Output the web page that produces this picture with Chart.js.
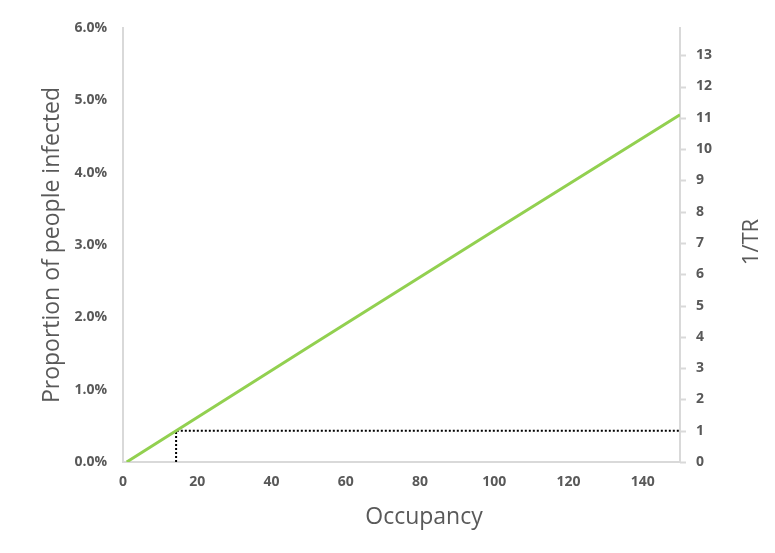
<!DOCTYPE html>
<html>
<head>
<meta charset="utf-8">
<script src="https://cdn.jsdelivr.net/npm/chart.js@4.4.1/dist/chart.umd.min.js"></script>
<style>
  html, body { margin: 0; padding: 0; background: #fff; }
  #wrap { width: 775px; height: 553px; position: relative; }
</style>
</head>
<body>
<div id="wrap"><canvas id="chart"></canvas></div>
<script>
// data
const occupancy = [1, 50, 100, 150];
const proportionInfected = [0, 0.0159, 0.0320, 0.0480];
const markerOccupancy = [14.3, 14.3, 150];
const markerTR = [0, 1, 1];
const xTicks = [0, 20, 40, 60, 80, 100, 120, 140];
const rightTicks = [0, 1, 2, 3, 4, 5, 6, 7, 8, 9, 10, 11, 12, 13];

const textColor = '#595959';
const axisColor = '#d9d9d9';
const tickFont = { family: 'Open Sans', size: 14, weight: 'bold' };

// axis titles drawn at their spots
const axisTitles = {
    id: 'axisTitles',
    afterDraw(chart) {
        const ctx = chart.ctx;
        const a = chart.chartArea;
        ctx.save();
        ctx.fillStyle = textColor;
        ctx.font = '23px "Open Sans"';
        ctx.textAlign = 'center';
        ctx.textBaseline = 'middle';
        ctx.fillText('Occupancy', 424, 517);
        ctx.translate(52, (a.top + a.bottom) / 2);
        ctx.rotate(-Math.PI / 2);
        ctx.fillText('Proportion of people infected', 0, 0);
        ctx.restore();
        ctx.save();
        ctx.fillStyle = textColor;
        ctx.font = '22px "Open Sans"';
        ctx.textAlign = 'center';
        ctx.textBaseline = 'middle';
        ctx.translate(752, 242);
        ctx.rotate(-Math.PI / 2);
        ctx.fillText('1/TR', 0, 0);
        ctx.restore();
        // small outside ticks on the right axis
        const s = chart.scales.y2;
        ctx.save();
        ctx.strokeStyle = axisColor;
        ctx.lineWidth = 2;
        s.ticks.forEach(t => {
            const y = Math.round(s.getPixelForValue(t.value)) + 0.5;
            ctx.beginPath();
            ctx.moveTo(a.right, y);
            ctx.lineTo(a.right + 6, y);
            ctx.stroke();
        });
        ctx.restore();
    }
};

new Chart(document.getElementById('chart'), {
    type: 'scatter',
    data: {
        datasets: [
            {
                label: 'Proportion',
                data: occupancy.map((x, i) => ({ x, y: proportionInfected[i] })),
                showLine: true,
                borderColor: '#92d050',
                borderWidth: 3,
                pointRadius: 0,
                yAxisID: 'y'
            },
            {
                label: '1/TR',
                data: markerOccupancy.map((x, i) => ({ x, y: markerTR[i] })),
                showLine: true,
                borderColor: '#000000',
                borderWidth: 2,
                borderDash: [2, 2],
                pointRadius: 0,
                yAxisID: 'y2'
            }
        ]
    },
    options: {
        responsive: true,
        maintainAspectRatio: false,
        animation: false,
        layout: { padding: { top: 28, left: 0, right: 0, bottom: 0 } },
        plugins: { legend: { display: false }, tooltip: { enabled: false } },
        scales: {
            x: {
                type: 'linear',
                min: 0, max: 150,
                afterBuildTicks(s) { s.ticks = xTicks.map(v => ({ value: v })); },
                ticks: { color: textColor, font: tickFont, padding: 12 },
                grid: { display: false, drawTicks: false },
                border: { color: axisColor, width: 2 },
                afterFit(s) { s.height = 91; }
            },
            y: {
                position: 'left',
                min: 0, max: 0.06,
                ticks: {
                    stepSize: 0.01, color: textColor, font: tickFont, padding: 16,
                    callback: v => (v * 100).toFixed(1) + '%'
                },
                grid: { display: false, drawTicks: false },
                border: { color: axisColor, width: 2 },
                afterFit(s) { s.width = 123; }
            },
            y2: {
                position: 'right',
                min: 0, max: 13.87,
                afterBuildTicks(s) { s.ticks = rightTicks.map(v => ({ value: v })); },
                ticks: { color: textColor, font: tickFont, padding: 16 },
                grid: { display: false, drawTicks: false },
                border: { color: axisColor, width: 2 },
                afterFit(s) { s.width = 95; }
            }
        }
    },
    plugins: [axisTitles]
});
</script>
</body>
</html>
